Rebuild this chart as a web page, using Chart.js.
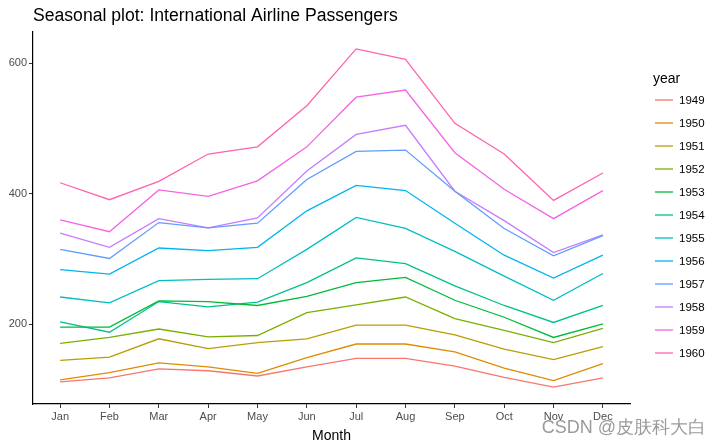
<!DOCTYPE html>
<html>
<head>
<meta charset="utf-8">
<script src="https://cdn.jsdelivr.net/npm/chart.js@4.4.0/dist/chart.umd.min.js"></script>
<style>
  html, body { margin: 0; padding: 0; background: #fff; }
  #wrap { width: 720px; height: 445px; }
</style>
</head>
<body>
<div id="wrap"><canvas id="grafico" width="720" height="445"></canvas></div>
<script>
// DATOS
const meses = ["Jan", "Feb", "Mar", "Apr", "May", "Jun", "Jul", "Aug", "Sep", "Oct", "Nov", "Dec"];
const anios = ["1949", "1950", "1951", "1952", "1953", "1954", "1955", "1956", "1957", "1958", "1959", "1960"];
const p1949 = [112, 118, 132, 129, 121, 135, 148, 148, 136, 119, 104, 118];
const p1950 = [115, 126, 141, 135, 125, 149, 170, 170, 158, 133, 114, 140];
const p1951 = [145, 150, 178, 163, 172, 178, 199, 199, 184, 162, 146, 166];
const p1952 = [171, 180, 193, 181, 183, 218, 230, 242, 209, 191, 172, 194];
const p1953 = [196, 196, 236, 235, 229, 243, 264, 272, 237, 211, 180, 201];
const p1954 = [204, 188, 235, 227, 234, 264, 302, 293, 259, 229, 203, 229];
const p1955 = [242, 233, 267, 269, 270, 315, 364, 347, 312, 274, 237, 278];
const p1956 = [284, 277, 317, 313, 318, 374, 413, 405, 355, 306, 271, 306];
const p1957 = [315, 301, 356, 348, 355, 422, 465, 467, 404, 347, 305, 336];
const p1958 = [340, 318, 362, 348, 363, 435, 491, 505, 404, 359, 310, 337];
const p1959 = [360, 342, 406, 396, 420, 472, 548, 559, 463, 407, 362, 405];
const p1960 = [417, 391, 419, 461, 472, 535, 622, 606, 508, 461, 390, 432];
const pasajeros = [p1949, p1950, p1951, p1952, p1953, p1954, p1955, p1956, p1957, p1958, p1959, p1960];
const ticksY = [200, 400, 600];
const colores = ["#F8766D", "#DE8C00", "#B79F00", "#7CAE00", "#00BA38", "#00C08B",
                 "#00BFC4", "#00B4F0", "#619CFF", "#C77CFF", "#F564E3", "#FF64B0"];
// DATOS END

const fuente = "'Liberation Sans', Arial, sans-serif";

// titulo, leyenda y marca de agua dibujados a mano
const extras = {
  id: "extras",
  afterDraw(chart) {
    const ctx = chart.ctx;
    ctx.save();
    ctx.fillStyle = "#000";
    ctx.font = "17.6px " + fuente;
    ctx.textBaseline = "alphabetic";
    ctx.textAlign = "left";
    ctx.fillText("Seasonal plot: International Airline Passengers", 33, 21);

    // leyenda
    ctx.font = "14px " + fuente;
    ctx.fillText("year", 653, 83);
    ctx.font = "11.5px " + fuente;
    ctx.textBaseline = "middle";
    chart.data.datasets.forEach((ds, i) => {
      const y = 100 + i * 23;
      ctx.strokeStyle = ds.borderColor;
      ctx.lineWidth = 1.3;
      ctx.beginPath();
      ctx.moveTo(655, y);
      ctx.lineTo(673, y);
      ctx.stroke();
      ctx.fillStyle = "#000";
      ctx.fillText(ds.label, 679, y + 1);
    });

    // marca de agua
    ctx.font = "18px " + fuente;
    ctx.textBaseline = "alphabetic";
    ctx.fillStyle = "rgba(120,120,120,0.75)";
    ctx.textAlign = "right";
    ctx.fillText("CSDN @皮肤科大白", 706, 433);
    ctx.restore();
  }
};

const datasets = anios.map((a, i) => ({
  label: a,
  data: pasajeros[i].map((v, j) => ({ x: j, y: v })),
  borderColor: colores[i],
  backgroundColor: colores[i],
  borderWidth: 1.3,
  pointRadius: 0,
  fill: false,
  tension: 0
}));

new Chart(document.getElementById("grafico"), {
  type: "line",
  data: { datasets: datasets },
  options: {
    responsive: false,
    animation: false,
    layout: { padding: { left: 0, top: 32, right: 90, bottom: 0 } },
    plugins: {
      legend: { display: false },
      title: { display: false },
      tooltip: { enabled: false }
    },
    scales: {
      x: {
        type: "linear",
        min: -0.55,
        max: 11.55,
        afterBuildTicks: (s) => { s.ticks = meses.map((m, i) => ({ value: i })); },
        afterFit: (s) => { s.height = 41; },
        ticks: {
          callback: (v) => meses[v],
          color: "#4D4D4D",
          font: { family: fuente, size: 11 },
          padding: 2,
          maxRotation: 0,
          autoSkip: false
        },
        grid: { drawOnChartArea: false, tickLength: 4, color: "#333", tickWidth: 1 },
        border: { display: true, color: "#000", width: 1.2 },
        title: {
          display: true,
          text: "Month",
          color: "#000",
          font: { family: fuente, size: 14 },
          padding: { top: 1, bottom: 0 }
        }
      },
      y: {
        type: "linear",
        min: 78.1,
        max: 647.9,
        afterBuildTicks: (s) => { s.ticks = ticksY.map((v) => ({ value: v })); },
        afterFit: (s) => { s.width = 33; },
        ticks: {
          color: "#4D4D4D",
          font: { family: fuente, size: 11 },
          padding: 2
        },
        grid: { drawOnChartArea: false, tickLength: 4, color: "#333", tickWidth: 1 },
        border: { display: true, color: "#000", width: 1.2 }
      }
    }
  },
  plugins: [extras]
});
</script>
</body>
</html>
